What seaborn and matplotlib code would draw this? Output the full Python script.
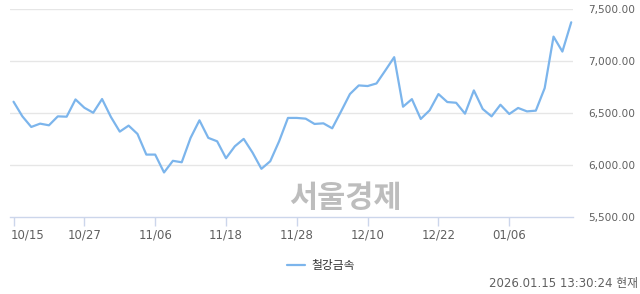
import matplotlib
matplotlib.use("Agg")
import matplotlib.pyplot as plt
import matplotlib.transforms as mtransforms
import seaborn as sns
import pandas as pd

dates = ["10/15","10/16","10/17","10/20","10/21","10/22","10/23","10/24","10/27","10/28",
         "10/29","10/30","10/31","11/03","11/04","11/05","11/06","11/07","11/10","11/11",
         "11/12","11/13","11/14","11/17","11/18","11/19","11/20","11/21","11/24","11/25",
         "11/26","11/27","11/28","12/01","12/02","12/03","12/04","12/05","12/08","12/09",
         "12/10","12/11","12/12","12/15","12/16","12/17","12/18","12/19","12/22","12/23",
         "12/24","12/26","12/29","12/30","01/02","01/05","01/06","01/07","01/08","01/09",
         "01/12","01/13","01/14","01/15"]
values = [6610, 6469, 6367, 6399, 6383, 6469, 6466, 6632, 6552, 6504,
          6636, 6463, 6322, 6380, 6300, 6101, 6101, 5929, 6041, 6027,
          6262, 6431, 6262, 6229, 6066, 6181, 6252, 6120, 5964, 6037,
          6229, 6454, 6454, 6447, 6396, 6402, 6354, 6517, 6684, 6767,
          6761, 6786, 6911, 7039, 6562, 6635, 6444, 6527, 6684, 6607,
          6600, 6495, 6719, 6540, 6469, 6581, 6492, 6550, 6517, 6524,
          6741, 7237, 7093, 7375]
series_name = "철강금속"
tick_labels = ["10/15", "10/27", "11/06", "11/18", "11/28", "12/10", "12/22", "01/06"]
y_ticks = [5500, 6000, 6500, 7000, 7500]
timestamp = "2026.01.15 13:30:24 현재"
watermark = "서울경제"

sns.set_style("white")
plt.rcParams['font.family'] = ['DejaVu Sans', 'Noto Sans CJK KR']

df = pd.DataFrame({"idx": range(len(values)), "value": values, "date": dates, "series": series_name})

W, H = 640, 294
fig = plt.figure(figsize=(W / 100, H / 100), dpi=100)
ax = fig.add_axes([10 / W, 1 - 217 / H, (573 - 10) / W, (217 - 9.3) / H])

sns.lineplot(data=df, x="idx", y="value", hue="series", palette=["#7cb5ec"],
             linewidth=1.6, ax=ax, legend=True)

ax.set_xlim(-0.4, 63.2)
ax.set_ylim(5500, 7500)

for v in y_ticks[1:]:
    ax.axhline(v, color="#e6e6e6", linewidth=1, zorder=0)

for s in ["top", "left", "right"]:
    ax.spines[s].set_visible(False)
ax.spines["bottom"].set_color("#ccd6eb")
ax.spines["bottom"].set_linewidth(1)

tick_pos = [dates.index(t) for t in tick_labels]
ax.set_xticks(tick_pos)
ax.set_xticklabels(tick_labels, fontsize=8.5, color="#606060")
ax.tick_params(axis="x", direction="out", length=6.5, width=1, color="#ccd6eb", pad=1.5, bottom=True)
labs = ax.get_xticklabels()
labs[0].set_horizontalalignment("left")
labs[0].set_transform(labs[0].get_transform() + mtransforms.ScaledTranslation(-2 / 72, 0, fig.dpi_scale_trans))

ax.yaxis.tick_right()
ax.set_yticks(y_ticks)
ax.set_yticklabels([f"{v:,.2f}" for v in y_ticks], fontsize=7.6, color="#606060")
ax.tick_params(axis="y", length=0, pad=11)
ax.set_xlabel("")
ax.set_ylabel("")

handles, labels_ = ax.get_legend_handles_labels()
ax.legend_.remove()
fig.legend(handles, labels_, loc="center", bbox_to_anchor=(321 / W, 1 - 266 / H),
           frameon=False, fontsize=8.5, handlelength=1.5, handletextpad=0.5,
           labelcolor="#333333")

fig.text(345 / W, 1 - 198 / H, watermark, fontsize=22, fontweight="bold",
         color="#bdbdbd", ha="center", va="center", family=['Noto Sans CJK KR'])
fig.text(638 / W, 1 - 283 / H, timestamp, fontsize=8.5, color="#606060",
         ha="right", va="center")

fig.savefig("out.png", dpi=100)
